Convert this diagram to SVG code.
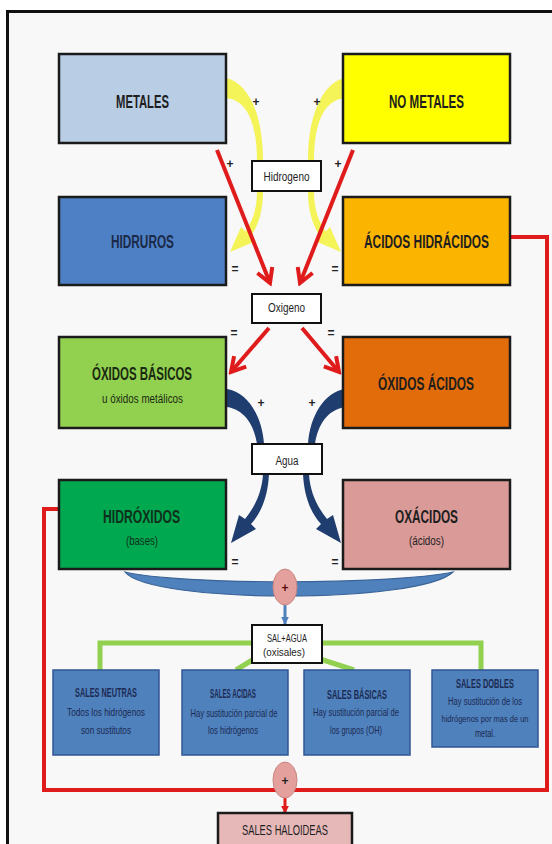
<svg xmlns="http://www.w3.org/2000/svg" width="552" height="844" viewBox="0 0 552 844">
<style>
.box{stroke:#1b1b1b;stroke-width:2.5}
.lbl{fill:#ffffff;stroke:#111;stroke-width:2}
.t{font-family:"Liberation Sans",Arial,sans-serif;text-anchor:middle;fill:#1e1e1e}
.tt{font-size:18px;font-weight:bold}
.st{font-size:12px}
.lt{font-size:12px}
.sym{font-family:"Liberation Sans",Arial,sans-serif;font-size:12px;font-weight:bold;text-anchor:middle;fill:#222}
.sb{fill:#4f81bd;stroke:#2f5597;stroke-width:1.5}
.bt{font-family:"Liberation Sans",Arial,sans-serif;text-anchor:middle;fill:#1c2a52;font-size:11px}
.btt{font-weight:bold;font-size:12px}
.sm{font-size:10px}
.xs{font-size:9px}
.red{stroke:#e01b1b;stroke-width:4;fill:none}
.grn{stroke:#92d050;stroke-width:5;fill:none}
.yel{fill:#f3f23c;opacity:0.85}
.nav{fill:#1f3d6e}
.pk{fill:#e3a09c;stroke:#c98682;stroke-width:1}
</style>
<defs>
<marker id="redV" viewBox="0 0 20 20" refX="17" refY="10" markerWidth="20" markerHeight="20" markerUnits="userSpaceOnUse" orient="auto">
<path d="M3,2 L17,10 L3,18" fill="none" stroke="#e01b1b" stroke-width="4"/>
</marker>
<marker id="redT" viewBox="0 0 10 10" refX="9" refY="5" markerWidth="8" markerHeight="8" markerUnits="userSpaceOnUse" orient="auto">
<path d="M0,0 L10,5 L0,10 Z" fill="#e01b1b"/>
</marker>
<marker id="bluT" viewBox="0 0 10 10" refX="9" refY="5" markerWidth="8" markerHeight="8" markerUnits="userSpaceOnUse" orient="auto">
<path d="M0,0 L10,5 L0,10 Z" fill="#4f81bd"/>
</marker>
</defs>
<rect x="0" y="0" width="552" height="844" fill="#ffffff"/>
<rect x="7.5" y="11.5" width="600" height="900" fill="#f8f8f8" stroke="#111" stroke-width="3"/>

<g id="connectors">
<g id="yellow-left">
<path class="yel" d="M226,78 C246,82 263,110 263,161 L257,161 C257,125 248,100 226,98 Z"/>
<path class="yel" d="M257,191 L263,191 C263,212 258,226 250.5,236.5 L256,241 L230,252 L241,227 L245.5,231.5 C252,222 257,210 257,191 Z"/>
</g>
<g id="yellow-right" transform="translate(571,0) scale(-1,1)">
<path class="yel" d="M226,78 C246,82 263,110 263,161 L257,161 C257,125 248,100 226,98 Z"/>
<path class="yel" d="M257,191 L263,191 C263,212 258,226 250.5,236.5 L256,241 L230,252 L241,227 L245.5,231.5 C252,222 257,210 257,191 Z"/>
</g>
<line class="red" x1="217" y1="150" x2="270" y2="283" marker-end="url(#redV)"/>
<line class="red" x1="353" y1="150" x2="300" y2="283" marker-end="url(#redV)"/>
<line class="red" x1="269" y1="328" x2="231" y2="372" marker-end="url(#redV)"/>
<line class="red" x1="302" y1="328" x2="339" y2="372" marker-end="url(#redV)"/>
<g id="navy-left">
<path class="nav" d="M227,389 C247,392 262,415 264,444 L257,444 C254,425 245,410 227,407 Z"/>
<path class="nav" d="M263,474 L269,474 C268,495 262,512 251,524 L256,529 L231,543 L239,515 L245,519 C254,508 262,493 263,474 Z"/>
</g>
<g id="navy-right" transform="translate(572,0) scale(-1,1)">
<path class="nav" d="M227,389 C247,392 262,415 264,444 L257,444 C254,425 245,410 227,407 Z"/>
<path class="nav" d="M263,474 L269,474 C268,495 262,512 251,524 L256,529 L231,543 L239,515 L245,519 C254,508 262,493 263,474 Z"/>
</g>
<path d="M125,572 C180,585 390,585 453,572 C420,604 150,604 125,572 Z" fill="#4f81bd" stroke="#3a6397" stroke-width="1.2"/>
<line x1="285" y1="605" x2="285" y2="624" stroke="#4f81bd" stroke-width="3" marker-end="url(#bluT)"/>
<path class="grn" d="M100,670 V643 H481 V670"/>
<line class="grn" x1="254" y1="659" x2="236" y2="670"/>
<line class="grn" x1="320" y1="659" x2="354" y2="670"/>
<path class="red" d="M510,237 H547 V790 H44 V509 H58"/>
<line x1="285" y1="798" x2="285" y2="813" stroke="#e01b1b" stroke-width="3" marker-end="url(#redT)"/>
</g>

<g id="metales"><rect class="box" x="59" y="54" width="167" height="89" fill="#b9cde5"/><text class="t tt" x="142.5" y="108" textLength="53" lengthAdjust="spacingAndGlyphs">METALES</text></g>
<g id="no-metales"><rect class="box" x="343" y="54" width="167" height="89" fill="#ffff00"/><text class="t tt" x="426.5" y="108" textLength="75" lengthAdjust="spacingAndGlyphs">NO METALES</text></g>
<g id="hidruros"><rect class="box" x="59" y="197" width="167" height="88" fill="#4e80c6"/><text class="t tt" x="142.5" y="248" textLength="63" lengthAdjust="spacingAndGlyphs" style="fill:#1b2a48">HIDRUROS</text></g>
<g id="acidos-hidracidos"><rect class="box" x="343" y="197" width="167" height="88" fill="#fbb400"/><text class="t tt" x="426.5" y="248" textLength="125" lengthAdjust="spacingAndGlyphs">ÁCIDOS HIDRÁCIDOS</text></g>
<g id="oxidos-basicos"><rect class="box" x="59" y="337" width="167" height="91" fill="#92d050"/><text class="t tt" x="142" y="380" textLength="100" lengthAdjust="spacingAndGlyphs" style="fill:#1a2a10">ÓXIDOS BÁSICOS</text><text class="t st" x="142.5" y="403" textLength="81" lengthAdjust="spacingAndGlyphs" style="fill:#1a2a10">u óxidos metálicos</text></g>
<g id="oxidos-acidos"><rect class="box" x="343" y="337" width="167" height="91" fill="#e36c0a"/><text class="t tt" x="426" y="390" textLength="96" lengthAdjust="spacingAndGlyphs">ÓXIDOS ÁCIDOS</text></g>
<g id="hidroxidos"><rect class="box" x="59" y="480" width="167" height="89" fill="#00a84f"/><text class="t tt" x="141.5" y="523" textLength="77" lengthAdjust="spacingAndGlyphs" style="fill:#10301c">HIDRÓXIDOS</text><text class="t st" x="142" y="545" textLength="32" lengthAdjust="spacingAndGlyphs" style="fill:#10301c">(bases)</text></g>
<g id="oxacidos"><rect class="box" x="343" y="480" width="167" height="89" fill="#d99a98"/><text class="t tt" x="426.5" y="523" textLength="63" lengthAdjust="spacingAndGlyphs">OXÁCIDOS</text><text class="t st" x="426.5" y="545" textLength="35" lengthAdjust="spacingAndGlyphs">(ácidos)</text></g>

<g id="hidrogeno"><rect class="lbl" x="252" y="161" width="69" height="30"/><text class="t lt" x="286.5" y="181" textLength="46" lengthAdjust="spacingAndGlyphs">Hidrogeno</text></g>
<g id="oxigeno"><rect class="lbl" x="252" y="294" width="69" height="29"/><text class="t lt" x="286.5" y="312" textLength="37" lengthAdjust="spacingAndGlyphs">Oxigeno</text></g>
<g id="agua"><rect class="lbl" x="252" y="444" width="70" height="30"/><text class="t lt" x="287" y="465" textLength="23" lengthAdjust="spacingAndGlyphs">Agua</text></g>

<g id="signos">
<text class="sym" x="256" y="106">+</text><text class="sym" x="317" y="106">+</text>
<text class="sym" x="230" y="168">+</text><text class="sym" x="338" y="168">+</text>
<text class="sym" x="235" y="273">=</text><text class="sym" x="335" y="273">=</text>
<text class="sym" x="234" y="337">=</text><text class="sym" x="331" y="337">=</text>
<text class="sym" x="261" y="407">+</text><text class="sym" x="312" y="407">+</text>
<text class="sym" x="235" y="566">=</text><text class="sym" x="335" y="566">=</text>
</g>

<g id="suma1"><ellipse class="pk" cx="285" cy="587" rx="12" ry="18"/><text class="sym" x="285" y="592" style="fill:#5a0c0c">+</text></g>

<g id="sal-agua"><rect class="lbl" x="252" y="625" width="70" height="38"/><text class="t" x="287" y="642" font-size="11" textLength="40" lengthAdjust="spacingAndGlyphs">SAL+AGUA</text><text class="t" x="284" y="656" font-size="11" textLength="42" lengthAdjust="spacingAndGlyphs">(oxisales)</text></g>

<g id="sales-neutras"><rect class="sb" x="53" y="670" width="106" height="85"/><text class="bt btt" x="106" y="697" textLength="62" lengthAdjust="spacingAndGlyphs">SALES NEUTRAS</text><text class="bt" x="106" y="716" textLength="78" lengthAdjust="spacingAndGlyphs">Todos los hidrógenos</text><text class="bt" x="106" y="734" textLength="50" lengthAdjust="spacingAndGlyphs">son sustitutos</text></g>
<g id="sales-acidas"><rect class="sb" x="182" y="670" width="106" height="85"/><text class="bt btt" x="233" y="698" textLength="46" lengthAdjust="spacingAndGlyphs">SALES ACIDAS</text><text class="bt" x="234" y="717" textLength="87" lengthAdjust="spacingAndGlyphs">Hay sustitución parcial de</text><text class="bt" x="233" y="734" textLength="50" lengthAdjust="spacingAndGlyphs">los hidrógenos</text></g>
<g id="sales-basicas"><rect class="sb" x="304" y="670" width="106" height="85"/><text class="bt btt" x="357" y="699" textLength="60" lengthAdjust="spacingAndGlyphs">SALES BÁSICAS</text><text class="bt" x="356" y="716" textLength="86" lengthAdjust="spacingAndGlyphs">Hay sustitución parcial de</text><text class="bt" x="356" y="734" textLength="52" lengthAdjust="spacingAndGlyphs">los grupos (OH)</text></g>
<g id="sales-dobles"><rect class="sb" x="432" y="670" width="106" height="77"/><text class="bt btt" x="485" y="688" textLength="58" lengthAdjust="spacingAndGlyphs">SALES DOBLES</text><text class="bt sm" x="485" y="705" textLength="74" lengthAdjust="spacingAndGlyphs">Hay sustitución de los</text><text class="bt xs" x="485" y="722" textLength="87" lengthAdjust="spacingAndGlyphs">hidrógenos por mas de un</text><text class="bt sm" x="485" y="737" textLength="20" lengthAdjust="spacingAndGlyphs">metal.</text></g>

<g id="suma2"><ellipse class="pk" cx="285" cy="780" rx="12" ry="18"/><text class="sym" x="285" y="785">+</text></g>

<g id="sales-haloideas"><rect x="218" y="813" width="134" height="33" fill="#e6b9b8" stroke="#1b1b1b" stroke-width="2.5"/><text class="t" x="285" y="835" font-size="14" textLength="86" lengthAdjust="spacingAndGlyphs">SALES HALOIDEAS</text></g>
</svg>
